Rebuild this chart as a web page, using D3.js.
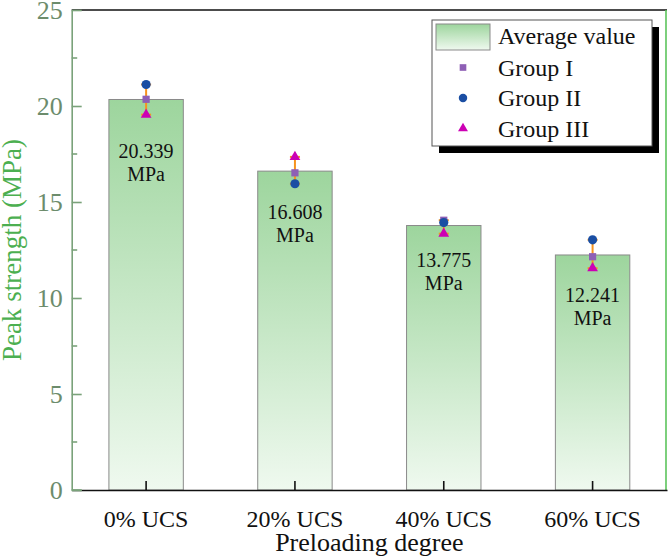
<!DOCTYPE html>
<html>
<head>
<meta charset="utf-8">
<script src="https://cdn.jsdelivr.net/npm/d3@7"></script>
</head>
<body style="margin:0;background:#fff">
<div id="chart"></div>
<script>
// data
const categories = ["0% UCS", "20% UCS", "40% UCS", "60% UCS"];
const averages = [20.339, 16.608, 13.775, 12.241];
const groupI = [20.35, 16.52, 14.05, 12.15];
const groupII = [21.12, 15.95, 13.93, 13.03];
const groupIII = [19.55, 17.35, 13.35, 11.55];
const yTicks = [0, 5, 10, 15, 20, 25];
const yMinor = [2.5, 7.5, 12.5, 17.5, 22.5];

const width = 669, height = 557;
const margin = {left: 71.7, right: 2, top: 10, bottom: 67};
const FONT = "Liberation Serif";

// label offset below bar top (px), as in the original figure
const labelOffset = [59, 48, 41, 47];

const x = d3.scaleBand()
  .domain(categories)
  .range([margin.left, width - margin.right])
  .paddingInner(0.5)
  .paddingOuter(0.25);

const y = d3.scaleLinear()
  .domain([0, 25])
  .range([height - margin.bottom, margin.top]);

const svg = d3.select("#chart").append("svg")
  .attr("width", width)
  .attr("height", height)
  .attr("font-family", FONT);

const defs = svg.append("defs");
const grad = defs.append("linearGradient")
  .attr("id", "barGrad")
  .attr("x1", 0).attr("y1", 0).attr("x2", 0).attr("y2", 1);
grad.append("stop").attr("offset", "0%").attr("stop-color", "#9dd59d");
grad.append("stop").attr("offset", "100%").attr("stop-color", "#eff9ef");

const x0 = x.range()[0], x1 = x.range()[1];
const yb = y(0), yt = y(25);

// bars
svg.append("g")
  .selectAll("rect")
  .data(averages)
  .join("rect")
  .attr("x", (d, i) => x(categories[i]))
  .attr("y", d => y(d))
  .attr("width", x.bandwidth())
  .attr("height", d => yb - y(d))
  .attr("fill", "url(#barGrad)")
  .attr("stroke", "#8a8a8a")
  .attr("stroke-width", 1);

// value labels inside bars
const labels = svg.append("g")
  .attr("text-anchor", "middle")
  .attr("font-size", 20)
  .attr("fill", "#111");

averages.forEach((v, i) => {
  const cx = x(categories[i]) + x.bandwidth() / 2;
  const by = y(v) + labelOffset[i];
  labels.append("text").attr("x", cx).attr("y", by).text(v.toFixed(3));
  labels.append("text").attr("x", cx).attr("y", by + 23).text("MPa");
});

// frame: top black, right green
svg.append("line")
  .attr("x1", x0).attr("x2", x1).attr("y1", yt).attr("y2", yt)
  .attr("stroke", "#111").attr("stroke-width", 1.6);
svg.append("line")
  .attr("x1", x1 - 1).attr("x2", x1 - 1).attr("y1", yt).attr("y2", yb)
  .attr("stroke", "#5cc45c").attr("stroke-width", 1.6);

// x axis, ticks inward
const xAxis = g => g
  .attr("transform", `translate(0,${yb})`)
  .call(d3.axisBottom(x).tickSizeInner(-9).tickSizeOuter(0).tickPadding(20))
  .attr("font-family", FONT)
  .attr("font-size", 24)
  .call(g => g.select(".domain").attr("stroke", "#111").attr("stroke-width", 1.6))
  .call(g => g.selectAll(".tick line").attr("stroke", "#111").attr("stroke-width", 1.6))
  .call(g => g.selectAll(".tick text").attr("fill", "#111"));

svg.append("g").call(xAxis);

// y axis, green, ticks inward
const axisColor = "#7aa27a";
const yAxis = g => g
  .attr("transform", `translate(${x0},0)`)
  .call(d3.axisRight(y).tickValues(yTicks).tickSizeInner(10).tickSizeOuter(0).tickFormat(d3.format("d")))
  .attr("font-family", FONT)
  .attr("font-size", 26)
  .call(g => g.select(".domain").attr("stroke", axisColor).attr("stroke-width", 1.6))
  .call(g => g.selectAll(".tick line").attr("stroke", axisColor).attr("stroke-width", 1.6))
  .call(g => g.selectAll(".tick text")
    .attr("x", -9)
    .attr("text-anchor", "end")
    .attr("fill", "#6c8c6c"));

svg.append("g").call(yAxis);

svg.append("g")
  .selectAll("line")
  .data(yMinor)
  .join("line")
  .attr("x1", x0).attr("x2", x0 + 5.5)
  .attr("y1", d => y(d)).attr("y2", d => y(d))
  .attr("stroke", axisColor).attr("stroke-width", 1.6);

// small green foot of the y axis
svg.append("line")
  .attr("x1", x0).attr("x2", x0 + 10).attr("y1", yb).attr("y2", yb)
  .attr("stroke", axisColor).attr("stroke-width", 1.6);

// axis titles
svg.append("text")
  .attr("transform", `translate(21,${(yt + yb) / 2}) rotate(-90)`)
  .attr("text-anchor", "middle")
  .attr("font-size", 27)
  .attr("fill", "#4caf50")
  .text("Peak strength (MPa)");

svg.append("text")
  .attr("x", (x0 + x1) / 2)
  .attr("y", 551)
  .attr("text-anchor", "middle")
  .attr("font-size", 26)
  .attr("fill", "#111")
  .text("Preloading degree");

// error bars + group points
const groups = [
  {name: "Group I", values: groupI, symbol: d3.symbolSquare, size: 52, color: "#8e5fb5"},
  {name: "Group II", values: groupII, symbol: d3.symbolCircle, size: 66, color: "#1a4ea3"},
  {name: "Group III", values: groupIII, symbol: d3.symbolTriangle, size: 50, color: "#cc00b4"}
];

const err = svg.append("g")
  .attr("stroke", "#f7931e")
  .attr("stroke-width", 2);

categories.forEach((c, i) => {
  const cx = x(c) + x.bandwidth() / 2;
  const vals = groups.map(g => g.values[i]);
  const lo = d3.min(vals), hi = d3.max(vals);
  err.append("line").attr("x1", cx).attr("x2", cx).attr("y1", y(lo)).attr("y2", y(hi));
  err.append("line").attr("x1", cx - 5).attr("x2", cx + 5).attr("y1", y(lo)).attr("y2", y(lo));
  err.append("line").attr("x1", cx - 5).attr("x2", cx + 5).attr("y1", y(hi)).attr("y2", y(hi));
});

groups.forEach(g => {
  svg.append("g")
    .selectAll("path")
    .data(g.values)
    .join("path")
    .attr("d", d3.symbol().type(g.symbol).size(g.size))
    .attr("transform", (d, i) => `translate(${x(categories[i]) + x.bandwidth() / 2},${y(d)})`)
    .attr("fill", g.color);
});

// legend
const legend = svg.append("g").attr("transform", "translate(432,20)").attr("font-size", 24);
const lw = 220, lh = 126;
legend.append("rect")
  .attr("x", 7).attr("y", 7).attr("width", lw).attr("height", lh)
  .attr("fill", "#000");
legend.append("rect")
  .attr("x", 0).attr("y", 0).attr("width", lw).attr("height", lh)
  .attr("fill", "#fff").attr("stroke", "#555").attr("stroke-width", 1);

legend.append("rect")
  .attr("x", 4).attr("y", 4).attr("width", 54).attr("height", 26)
  .attr("fill", "url(#barGrad)").attr("stroke", "#8a8a8a");
legend.append("text")
  .attr("x", 66).attr("y", 24)
  .attr("fill", "#111")
  .text("Average value");

groups.forEach((g, k) => {
  const cy = 47.5 + k * 30.5;
  legend.append("path")
    .attr("d", d3.symbol().type(g.symbol).size(g.size * 0.85))
    .attr("transform", `translate(31,${cy})`)
    .attr("fill", g.color);
  legend.append("text")
    .attr("x", 66).attr("y", cy + 8)
    .attr("fill", "#111")
    .text(g.name);
});

svg.selectAll("text").attr("font-family", FONT).style("font-family", FONT);
</script>
</body>
</html>
